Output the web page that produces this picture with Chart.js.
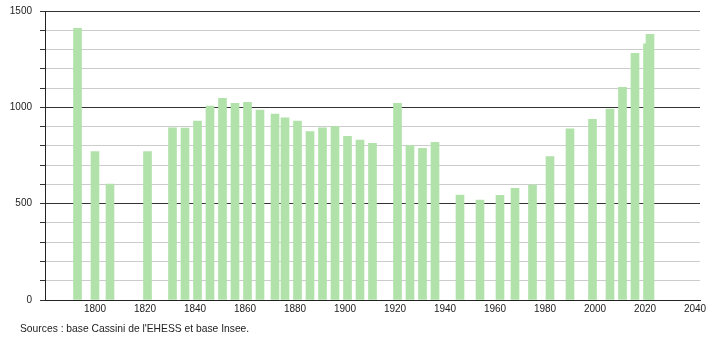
<!DOCTYPE html>
<html>
<head>
<meta charset="utf-8">
<script src="https://cdn.jsdelivr.net/npm/chart.js@4/dist/chart.umd.min.js"></script>
<style>
html,body{margin:0;padding:0;background:#fff;}
#wrap{position:relative;width:710px;height:340px;}
#src{position:absolute;left:20px;top:323px;font-family:"Liberation Sans",Arial,sans-serif;font-size:10.3px;color:#222;white-space:nowrap;}
</style>
</head>
<body>
<div id="wrap">
<canvas id="c" width="710" height="340"></canvas>
<div id="src">Sources : base Cassini de l'EHESS et base Insee.</div>
</div>
<script>
const years = [1793,1800,1806,1821,1831,1836,1841,1846,1851,1856,1861,1866,1872,1876,1881,1886,1891,1896,1901,1906,1911,1921,1926,1931,1936,1946,1954,1962,1968,1975,1982,1990,1999,2006,2011,2016,2021,2022];
const population = [1410,770,602,770,894,892,929,1007,1047,1021,1026,986,965,945,929,874,894,900,850,830,813,1021,803,787,818,545,519,543,580,597,744,888,938,991,1104,1280,1329,1379];
const xTicks = [1800,1820,1840,1860,1880,1900,1920,1940,1960,1980,2000,2020,2040];
const yLabels = [0,500,1000,1500];

const points = years.map((y,i)=>({x:y,y:population[i]}));
const font = {family:'"Liberation Sans", Arial, sans-serif', size:10};

new Chart(document.getElementById('c'), {
  type:'bar',
  data:{datasets:[{data:points, backgroundColor:'#b0e2aa', borderWidth:0, barThickness:8}]},
  options:{
    responsive:false, animation:false,
    layout:{padding:{top:11,right:10,left:0,bottom:0}},
    plugins:{legend:{display:false},tooltip:{enabled:false}},
    scales:{
      x:{type:'linear', min:1780, max:2042, offset:false,
        afterFit:s=>{s.height=40;s.paddingLeft=0;s.paddingRight=0;},
        afterBuildTicks:s=>{s.ticks=xTicks.map(v=>({value:v}));},
        grid:{display:false, drawTicks:false},
        border:{display:true,color:'#222',width:1},
        ticks:{font:font,color:'#222',padding:3,maxRotation:0,autoSkip:false,callback:v=>String(v)}
      },
      y:{min:0,max:1500,
        afterFit:s=>{s.width=45;s.paddingTop=0;s.paddingBottom=0;},
        ticks:{stepSize:100,font:font,color:'#222',padding:8,
          callback:v=>yLabels.includes(v)?String(v):''},
        grid:{color:c=>(c.tick && c.tick.value%500===0)?'#333':'#cccccc',
          tickColor:'#333',tickLength:5,lineWidth:1},
        border:{display:true,color:'#222',width:1}
      }
    }
  }
});
</script>
</body>
</html>
